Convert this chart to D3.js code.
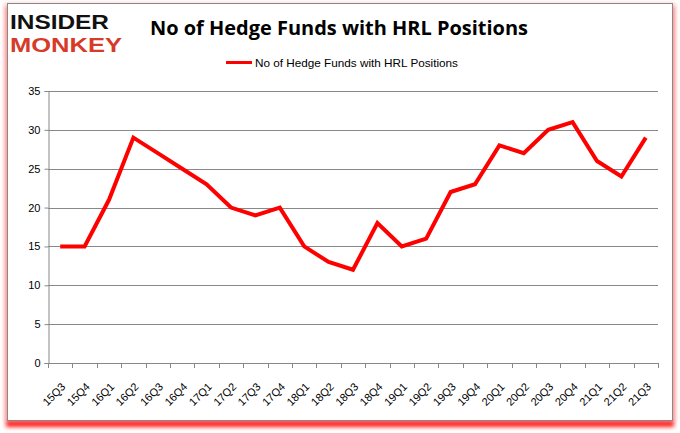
<!DOCTYPE html>
<html><head><meta charset="utf-8">
<script src="https://cdn.jsdelivr.net/npm/d3@7"></script>
<style>body{margin:0;background:#fff}svg{display:block}</style>
</head><body>
<script>
const categories = ["15Q3","15Q4","16Q1","16Q2","16Q3","16Q4","17Q1","17Q2","17Q3","17Q4","18Q1","18Q2","18Q3","18Q4","19Q1","19Q2","19Q3","19Q4","20Q1","20Q2","20Q3","20Q4","21Q1","21Q2","21Q3"];
const values = [15,15,21,29,27,25,23,20,19,20,15,13,12,18,15,16,22,23,28,27,30,31,26,24,29];
const yTicks = [0,5,10,15,20,25,30,35];
const seriesName = "No of Hedge Funds with HRL Positions";
const title = "No of Hedge Funds with HRL Positions";

(function(){
const W = 680, H = 433;
const svg = d3.select("body").append("svg").attr("width", W).attr("height", H);
const defs = svg.append("defs");
const f = defs.append("filter").attr("id","sh").attr("x","-5%").attr("y","-5%").attr("width","110%").attr("height","115%");
f.append("feGaussianBlur").attr("stdDeviation", 2);

// frame shadow
svg.append("rect").attr("x",6).attr("y",6).attr("width",668).attr("height",421).attr("fill","#ff0000").attr("filter","url(#sh)").attr("opacity",0.9);
svg.append("rect").attr("x",4).attr("y",2).attr("width",672).attr("height",420).attr("fill","#ffd0d0").attr("filter","url(#sh)").attr("opacity",0.6);
svg.append("rect").attr("x",7.5).attr("y",3.5).attr("width",665).attr("height",417).attr("fill","#fff").attr("stroke","#888").attr("stroke-width",1);

// logo
svg.append("text").attr("x",10).attr("y",28.5).attr("font-family","'Liberation Sans', sans-serif").attr("font-weight","bold")
  .attr("font-size",20).attr("fill","#111").attr("textLength",99).attr("lengthAdjust","spacingAndGlyphs").text("INSIDER");
svg.append("text").attr("x",10).attr("y",51.5).attr("font-family","'Liberation Sans', sans-serif").attr("font-weight","bold")
  .attr("font-size",20).attr("fill","#d63b2a").attr("textLength",112).attr("lengthAdjust","spacingAndGlyphs").text("MONKEY");

// title
svg.append("text").attr("x",339).attr("y",35).attr("text-anchor","middle").attr("font-family","'Open Sans', 'Liberation Sans', sans-serif")
  .attr("font-weight","bold").attr("font-size",20).attr("fill","#000").attr("textLength",378).attr("lengthAdjust","spacingAndGlyphs").text(title);

// legend
svg.append("line").attr("x1",226).attr("x2",252).attr("y1",62.5).attr("y2",62.5).attr("stroke","#ff0000").attr("stroke-width",3);
svg.append("text").attr("x",255).attr("y",66.5).attr("font-family","'Liberation Sans', Arial, sans-serif").attr("font-size",11.5)
  .attr("fill","#000").attr("textLength",203).attr("lengthAdjust","spacingAndGlyphs").text(seriesName);

const left = 48, right = 658, topY = 91, bottom = 363;
const x = d3.scaleBand().domain(categories).range([left, right]).padding(0);
const y = d3.scaleLinear().domain([0,35]).range([bottom, topY]);

// gridlines
svg.append("g").selectAll("line").data(yTicks.filter(d=>d>0)).join("line")
  .attr("x1",left).attr("x2",right).attr("y1",d=>Math.round(y(d))+0.5).attr("y2",d=>Math.round(y(d))+0.5)
  .attr("stroke","#888").attr("stroke-width",1);

// y axis
const ya = svg.append("g").attr("transform",`translate(${left+0.5},0)`)
  .call(d3.axisLeft(y).tickValues(yTicks).tickSize(4).tickPadding(4));
ya.select(".domain").attr("stroke","#888");
ya.selectAll(".tick line").attr("stroke","#888");
ya.selectAll("text").attr("font-family","'Liberation Sans', Arial, sans-serif").attr("font-size",11).attr("fill","#000");

// x axis
const xa = svg.append("g").attr("transform",`translate(0,${bottom+0.5})`)
  .call(d3.axisBottom(x).tickSize(0).tickPadding(0));
xa.select(".domain").attr("stroke","#888").attr("d",`M${left},0H${right}`);
xa.selectAll(".tick text").attr("font-family","'Liberation Sans', Arial, sans-serif").attr("font-size",11).attr("fill","#000")
  .attr("text-anchor","end").attr("y",0).attr("dy",null).attr("transform","translate(6,24) rotate(-45)");
// boundary ticks
const bounds = categories.map(c=>x(c)).concat([right]);
svg.append("g").selectAll("line").data(bounds).join("line")
  .attr("x1",d=>Math.round(d)+0.5).attr("x2",d=>Math.round(d)+0.5).attr("y1",bottom).attr("y2",bottom+5)
  .attr("stroke","#888");

// line
const line = d3.line().x((d,i)=>x(categories[i])+x.bandwidth()/2).y(d=>y(d));
svg.append("path").datum(values).attr("d",line).attr("fill","none").attr("stroke","#ff0000").attr("stroke-width",4).attr("stroke-linejoin","miter");
})();
</script>
</body></html>
